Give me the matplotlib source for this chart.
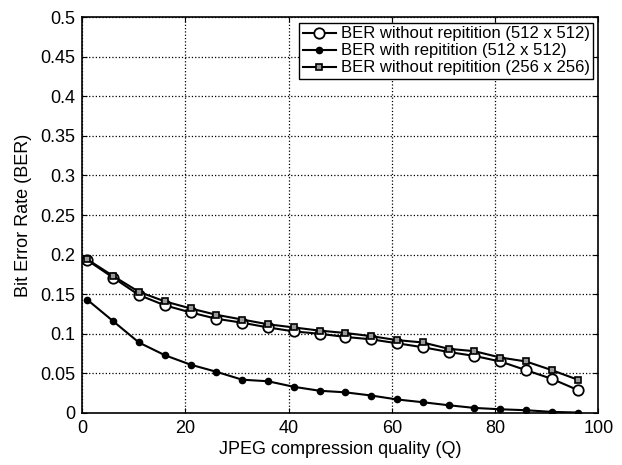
import matplotlib
matplotlib.use("Agg")
import matplotlib.pyplot as plt

quality = [1, 6, 11, 16, 21, 26, 31, 36, 41, 46, 51, 56, 61, 66, 71, 76, 81, 86, 91, 96]
ber_no_rep_512 = [0.193, 0.171, 0.149, 0.136, 0.127, 0.119, 0.114, 0.108, 0.103, 0.100,
                  0.096, 0.093, 0.088, 0.083, 0.077, 0.072, 0.065, 0.054, 0.043, 0.029]
ber_rep_512 = [0.143, 0.116, 0.089, 0.073, 0.061, 0.052, 0.042, 0.040, 0.033, 0.028,
               0.026, 0.022, 0.017, 0.0135, 0.0097, 0.0063, 0.0046, 0.0034, 0.0013, 0.0005]
ber_no_rep_256 = [0.194, 0.173, 0.153, 0.141, 0.132, 0.124, 0.118, 0.112, 0.108, 0.104,
                  0.101, 0.097, 0.092, 0.089, 0.081, 0.078, 0.070, 0.065, 0.054, 0.042]

plt.rcParams['font.family'] = ['Liberation Sans', 'DejaVu Sans']

fig = plt.figure(figsize=(6.22, 4.65), dpi=100)
ax = fig.add_axes([0.132, 0.112, 0.830, 0.851])

ax.plot(quality, ber_no_rep_512, color='black', lw=1.5, marker='o', ms=7.5,
        mfc='white', mec='black', mew=1.3, label='BER without repitition (512 x 512)')
ax.plot(quality, ber_rep_512, color='black', lw=1.5, marker='o', ms=4.5,
        mfc='black', mec='black', label='BER with repitition (512 x 512)')
ax.plot(quality, ber_no_rep_256, color='black', lw=1.5, marker='s', ms=4.5,
        mfc='0.6', mec='black', mew=1.2, label='BER without repitition (256 x 256)')

ax.set_xlim(0, 100)
ax.set_ylim(0, 0.5)
ax.set_xticks(range(0, 101, 20))
ax.set_yticks([i * 0.05 for i in range(11)])
ax.set_yticklabels(['0', '0.05', '0.1', '0.15', '0.2', '0.25', '0.3', '0.35', '0.4', '0.45', '0.5'])
ax.grid(True, linestyle=':', color='black', lw=0.9)
ax.tick_params(direction='in', top=True, right=True, labelsize=13, pad=5)
for s in ax.spines.values():
    s.set_linewidth(1.2)

ax.set_xlabel('JPEG compression quality (Q)', fontsize=13, labelpad=3)
ax.set_ylabel('Bit Error Rate (BER)', fontsize=13, labelpad=6)

leg = ax.legend(loc='upper right', bbox_to_anchor=(0.99, 0.985), fontsize=12,
                frameon=True, fancybox=False, edgecolor='black', framealpha=1,
                handlelength=2.0, borderaxespad=0.0, labelspacing=0.12,
                handletextpad=0.3, borderpad=0.2)
leg.get_frame().set_linewidth(1.0)

fig.savefig('out.png', dpi=100)
